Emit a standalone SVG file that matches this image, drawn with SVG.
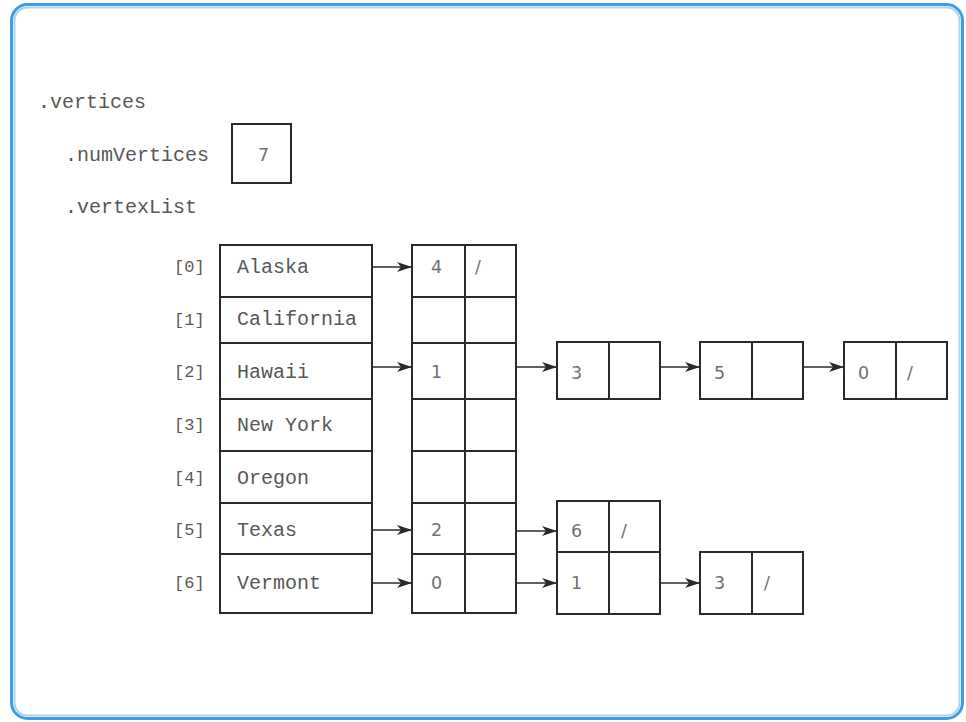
<svg xmlns="http://www.w3.org/2000/svg" width="966" height="722" viewBox="0 0 966 722">
<style>
.lbl{font-family:"Liberation Mono","Courier New",monospace;font-size:20px;fill:#575757}
.idx{font-family:"Liberation Mono","Courier New",monospace;font-size:17px;fill:#5a5a5a}
.num{font-family:"DejaVu Sans","Liberation Sans",sans-serif;font-size:17.5px;fill:#707070}
.box{fill:#fff;stroke:#2a2a2a;stroke-width:2}
.div{stroke:#2a2a2a;stroke-width:2}
.conn{stroke:#2a2a2a;stroke-width:1.5;fill:none;marker-end:url(#ah)}
</style>
<defs>
<marker id="ah" markerUnits="userSpaceOnUse" markerWidth="15" markerHeight="10" refX="15" refY="5" orient="auto">
<path d="M0,0 L15,5 L0,10 L4,5 z" fill="#2a2a2a"/>
</marker>
</defs>
<rect x="0" y="0" width="966" height="722" fill="#fff"/>
<rect x="11.5" y="4.5" width="951" height="714" rx="16" fill="#fff" stroke="#3d9fe3" stroke-width="3"/>
<rect x="14.5" y="7.5" width="945" height="708" rx="13" fill="none" stroke="#a9d5f4" stroke-width="2"/>

<g id="title">
<text class="lbl" x="38" y="108">.vertices</text>
<text class="lbl" x="65" y="161">.numVertices</text>
<text class="lbl" x="65" y="213">.vertexList</text>
</g>
<g id="numVertices">
<rect class="box" x="232" y="124" width="59" height="59"/>
<text class="num" x="258" y="161">7</text>
</g>

<g id="indices">
<text class="idx" x="174" y="272">[0]</text>
<text class="idx" x="174" y="325">[1]</text>
<text class="idx" x="174" y="377">[2]</text>
<text class="idx" x="174" y="430">[3]</text>
<text class="idx" x="174" y="483">[4]</text>
<text class="idx" x="174" y="535">[5]</text>
<text class="idx" x="174" y="588">[6]</text>
</g>

<g id="vertexList">
<rect class="box" x="220" y="245" width="152" height="368"/>
<line class="div" x1="220" y1="297" x2="372" y2="297"/>
<line class="div" x1="220" y1="343" x2="372" y2="343"/>
<line class="div" x1="220" y1="399" x2="372" y2="399"/>
<line class="div" x1="220" y1="451" x2="372" y2="451"/>
<line class="div" x1="220" y1="503" x2="372" y2="503"/>
<line class="div" x1="220" y1="554" x2="372" y2="554"/>
<text class="lbl" x="237" y="273">Alaska</text>
<text class="lbl" x="237" y="325">California</text>
<text class="lbl" x="237" y="378">Hawaii</text>
<text class="lbl" x="237" y="431">New York</text>
<text class="lbl" x="237" y="484">Oregon</text>
<text class="lbl" x="237" y="536">Texas</text>
<text class="lbl" x="237" y="589">Vermont</text>
</g>

<g id="edgeHeads">
<rect class="box" x="412" y="245" width="104" height="368"/>
<line class="div" x1="465" y1="245" x2="465" y2="613"/>
<line class="div" x1="412" y1="297" x2="516" y2="297"/>
<line class="div" x1="412" y1="343" x2="516" y2="343"/>
<line class="div" x1="412" y1="399" x2="516" y2="399"/>
<line class="div" x1="412" y1="451" x2="516" y2="451"/>
<line class="div" x1="412" y1="503" x2="516" y2="503"/>
<line class="div" x1="412" y1="554" x2="516" y2="554"/>
<text class="num" x="431" y="273">4</text>
<text class="num" x="475" y="273">/</text>
<text class="num" x="431" y="378">1</text>
<text class="num" x="431" y="536">2</text>
<text class="num" x="431" y="589">0</text>
</g>

<g id="n2a">
<rect class="box" x="557" y="342" width="103" height="57"/>
<line class="div" x1="609" y1="342" x2="609" y2="399"/>
<text class="num" x="571" y="379">3</text>
</g>
<g id="n2b">
<rect class="box" x="700" y="342" width="103" height="57"/>
<line class="div" x1="752" y1="342" x2="752" y2="399"/>
<text class="num" x="714" y="379">5</text>
</g>
<g id="n2c">
<rect class="box" x="844" y="342" width="103" height="57"/>
<line class="div" x1="896" y1="342" x2="896" y2="399"/>
<text class="num" x="858" y="379">0</text>
<text class="num" x="907" y="379">/</text>
</g>
<g id="n5a">
<rect class="box" x="557" y="501" width="103" height="51"/>
<line class="div" x1="609" y1="501" x2="609" y2="552"/>
<text class="num" x="571" y="537">6</text>
<text class="num" x="621" y="537">/</text>
</g>
<g id="n6a">
<rect class="box" x="557" y="552" width="103" height="62"/>
<line class="div" x1="609" y1="552" x2="609" y2="614"/>
<text class="num" x="571" y="589">1</text>
</g>
<g id="n6b">
<rect class="box" x="700" y="552" width="103" height="62"/>
<line class="div" x1="752" y1="552" x2="752" y2="614"/>
<text class="num" x="714" y="589">3</text>
<text class="num" x="764" y="589">/</text>
</g>

<g id="connectors">
<line class="conn" x1="372" y1="267" x2="412" y2="267"/>
<line class="conn" x1="372" y1="367" x2="412" y2="367"/>
<line class="conn" x1="372" y1="530" x2="412" y2="530"/>
<line class="conn" x1="372" y1="583" x2="412" y2="583"/>
<line class="conn" x1="516" y1="367" x2="557" y2="367"/>
<line class="conn" x1="660" y1="367" x2="700" y2="367"/>
<line class="conn" x1="803" y1="367" x2="844" y2="367"/>
<line class="conn" x1="516" y1="531" x2="557" y2="531"/>
<line class="conn" x1="516" y1="583" x2="557" y2="583"/>
<line class="conn" x1="660" y1="583" x2="700" y2="583"/>
</g>
</svg>
